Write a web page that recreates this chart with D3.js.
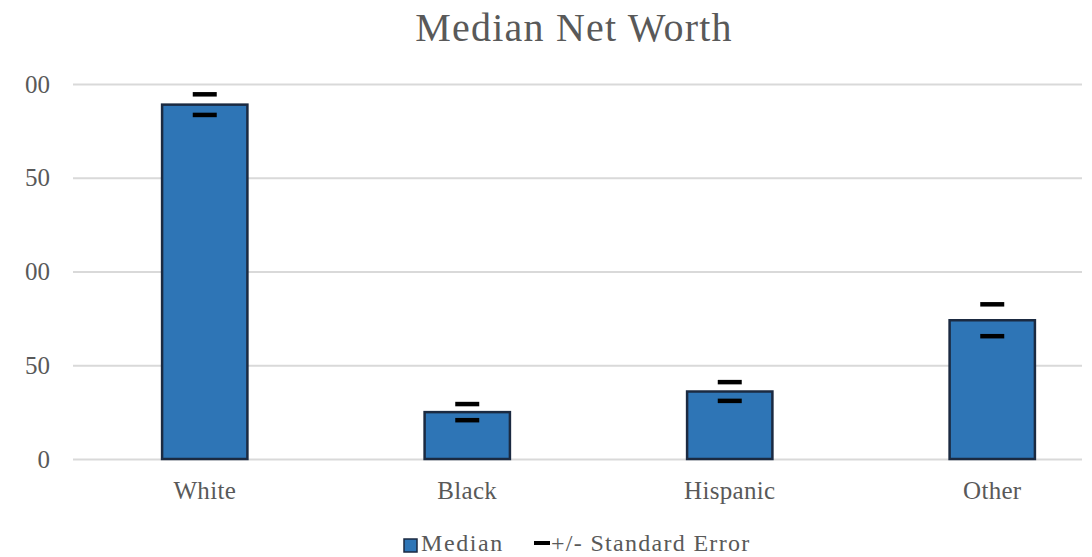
<!DOCTYPE html>
<html>
<head>
<meta charset="utf-8">
<script src="https://cdn.jsdelivr.net/npm/d3@7"></script>
<style>
  body { margin: 0; background: #fff; }
  svg { display: block; font-family: "Liberation Serif", "DejaVu Serif", serif; }
</style>
</head>
<body>
<svg id="chart"></svg>
<script>
// values
const categories = ['White', 'Black', 'Hispanic', 'Other'];
const medians = [189, 25, 36, 74];
const stdErrors = [5.5, 4.3, 5, 8.5];
const yTicks = [200, 150, 100, 50, 0];
const yTickLabels = ['00', '50', '00', '50', '0'];

const width = 1092, height = 557;
const textColor = '#595959';
const barFill = '#2e75b6';
const barStroke = '#1b2a41';

const svg = d3.select('#chart')
    .attr('width', width)
    .attr('height', height);

const xscale = d3.scaleBand()
    .domain(categories)
    .range([73.5, 1123.5])
    .paddingInner(0.675)
    .paddingOuter(0.3375);

const yscale = d3.scaleLinear()
    .domain([0, 200])
    .range([459, 84]);

const gridRight = 1082;
const gridLeft = 73;

// y axis with gridlines
const yaxis = d3.axisLeft(yscale)
    .tickValues(yTicks)
    .tickSize(-(gridRight - gridLeft))
    .tickPadding(23)
    .tickFormat((d, i) => yTickLabels[i]);

const yaxis_group = svg.append('g')
    .attr('transform', `translate(${gridLeft}, 0)`)
    .call(yaxis);
yaxis_group.select('.domain').remove();
yaxis_group.selectAll('line')
    .attr('stroke', '#d9d9d9')
    .attr('stroke-width', 2);
yaxis_group.selectAll('text')
    .attr('fill', textColor)
    .style('font-size', '25px')
    .style('font-family', '"Liberation Serif", serif');

// x axis labels
const xaxis = d3.axisBottom(xscale)
    .tickSize(0)
    .tickPadding(22);
const xaxis_group = svg.append('g')
    .attr('transform', `translate(0, ${yscale(0)})`)
    .call(xaxis);
xaxis_group.select('.domain').remove();
xaxis_group.selectAll('text')
    .attr('fill', textColor)
    .style('font-size', '25px')
    .style('letter-spacing', '0.3px')
    .style('font-family', '"Liberation Serif", serif');

const data = categories.map((c, i) => ({ key: c, value: medians[i], se: stdErrors[i] }));

// bars
svg.append('g').selectAll('rect')
    .data(data)
    .join('rect')
    .attr('x', d => xscale(d.key))
    .attr('y', d => yscale(d.value))
    .attr('width', xscale.bandwidth())
    .attr('height', d => yscale(0) - yscale(d.value))
    .attr('fill', barFill)
    .attr('stroke', barStroke)
    .attr('stroke-width', 2.5);

// error bar caps (+/- standard error)
const capWidth = 24;
const caps = data.flatMap(d => [
    { key: d.key, v: d.value + d.se },
    { key: d.key, v: d.value - d.se }
]);
svg.append('g').selectAll('line')
    .data(caps)
    .join('line')
    .attr('x1', d => xscale(d.key) + xscale.bandwidth() / 2 - capWidth / 2)
    .attr('x2', d => xscale(d.key) + xscale.bandwidth() / 2 + capWidth / 2)
    .attr('y1', d => yscale(d.v))
    .attr('y2', d => yscale(d.v))
    .attr('stroke', '#000')
    .attr('stroke-width', 4.5);

// title
svg.append('text')
    .attr('x', 574)
    .attr('y', 41)
    .attr('text-anchor', 'middle')
    .attr('fill', textColor)
    .style('font-size', '40px')
    .style('letter-spacing', '1.2px')
    .text('Median Net Worth');

// legend
const legend = svg.append('g');
legend.append('rect')
    .attr('x', 404)
    .attr('y', 539)
    .attr('width', 13)
    .attr('height', 13)
    .attr('fill', barFill)
    .attr('stroke', barStroke)
    .attr('stroke-width', 1.5);
legend.append('text')
    .attr('x', 421)
    .attr('y', 551)
    .attr('fill', textColor)
    .style('font-size', '24px')
    .style('letter-spacing', '1.6px')
    .text('Median');
legend.append('line')
    .attr('x1', 534)
    .attr('x2', 550)
    .attr('y1', 543)
    .attr('y2', 543)
    .attr('stroke', '#000')
    .attr('stroke-width', 4);
legend.append('text')
    .attr('x', 551)
    .attr('y', 551)
    .attr('fill', textColor)
    .style('font-size', '24px')
    .style('letter-spacing', '1.3px')
    .text('+/- Standard Error');
</script>
</body>
</html>
